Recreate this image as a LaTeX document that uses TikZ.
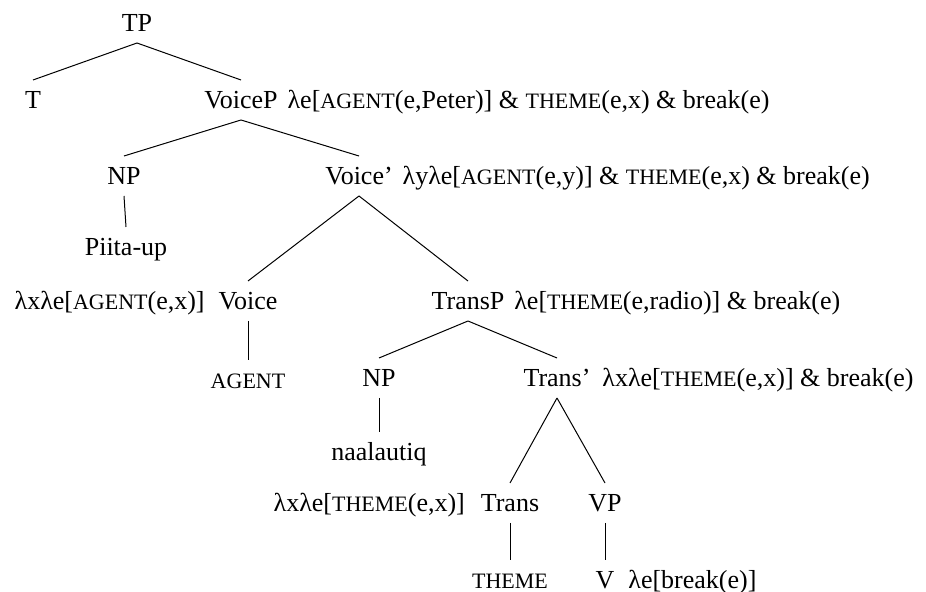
\documentclass[tikz,border=0pt]{standalone}
\usepackage{fontspec}
\setmainfont{Liberation Serif}
\usepackage{tikz}
\usetikzlibrary{positioning}

% small caps, faked (Liberation Serif has none)
\newcommand{\fsc}[1]{{\fontsize{11}{13}\selectfont\MakeUppercase{#1}}}

\begin{document}
\begin{tikzpicture}[
    x=0.5pt, y=-0.5pt,
    font=\fontsize{13}{15}\selectfont,
    node distance=5pt,
    cat/.style={inner sep=0pt, text height=8.5pt, text depth=0pt,
                outer ysep=5.75pt, outer xsep=0pt},
    sem/.style={cat},
    branch/.style={line width=0.5pt}
]
\useasboundingbox (0,0) rectangle (926,592);

% categories
\node[cat] (tp)       at (137,23)  {TP};
\node[cat] (t)        at (33,100)  {T};
\node[cat] (voicep)   at (241,100) {VoiceP};
\node[cat] (np1)      at (124,176) {NP};
\node[cat] (voicebar) at (359,176) {Voice'};
\node[cat] (piita)    at (126,247) {Piita-up};
\node[cat] (voice)    at (248,301) {Voice};
\node[cat] (transp)   at (468,301) {TransP};
\node[cat] (agent)    at (248,380) {\fsc{agent}};
\node[cat] (np2)      at (379,378) {NP};
\node[cat] (transbar) at (557,378) {Trans'};
\node[cat] (naal)     at (379,452) {naalautiq};
\node[cat] (trans)    at (510,503) {Trans};
\node[cat] (vp)       at (605,503) {VP};
\node[cat] (theme)    at (510,580) {\fsc{theme}};
\node[cat] (v)        at (605,580) {V};

% meanings
\node[sem, right=of voicep] (voicepsem)
    {λe[\fsc{agent}(e,Peter)] \& \fsc{theme}(e,x) \& break(e)};
\node[sem, right=of voicebar] (voicebarsem)
    {λyλe[\fsc{agent}(e,y)] \& \fsc{theme}(e,x) \& break(e)};
\node[sem, left=7pt of voice] (voicesem) {λxλe[\fsc{agent}(e,x)]};
\node[sem, right=of transp] (transpsem)
    {λe[\fsc{theme}(e,radio)] \& break(e)};
\node[sem, right=6pt of transbar] (transbarsem)
    {λxλe[\fsc{theme}(e,x)] \& break(e)};
\node[sem, left=8pt of trans] (transsem) {λxλe[\fsc{theme}(e,x)]};
\node[sem, right=7pt of v] (vsem) {λe[break(e)]};

% branches
\draw[branch] (tp.south) -- (t.north);
\draw[branch] (tp.south) -- (voicep.north);
\draw[branch] (voicep.south) -- (np1.north);
\draw[branch] (voicep.south) -- (voicebar.north);
\draw[branch] (np1.south) -- (piita.north);
\draw[branch] (voicebar.south) -- (voice.north);
\draw[branch] (voicebar.south) -- (transp.north);
\draw[branch] (voice.south) -- (agent.north);
\draw[branch] (transp.south) -- (np2.north);
\draw[branch] (transp.south) -- (transbar.north);
\draw[branch] (np2.south) -- (naal.north);
\draw[branch] (transbar.south) -- (trans.north);
\draw[branch] (transbar.south) -- (vp.north);
\draw[branch] (trans.south) -- (theme.north);
\draw[branch] (vp.south) -- (v.north);

\end{tikzpicture}
\end{document}
